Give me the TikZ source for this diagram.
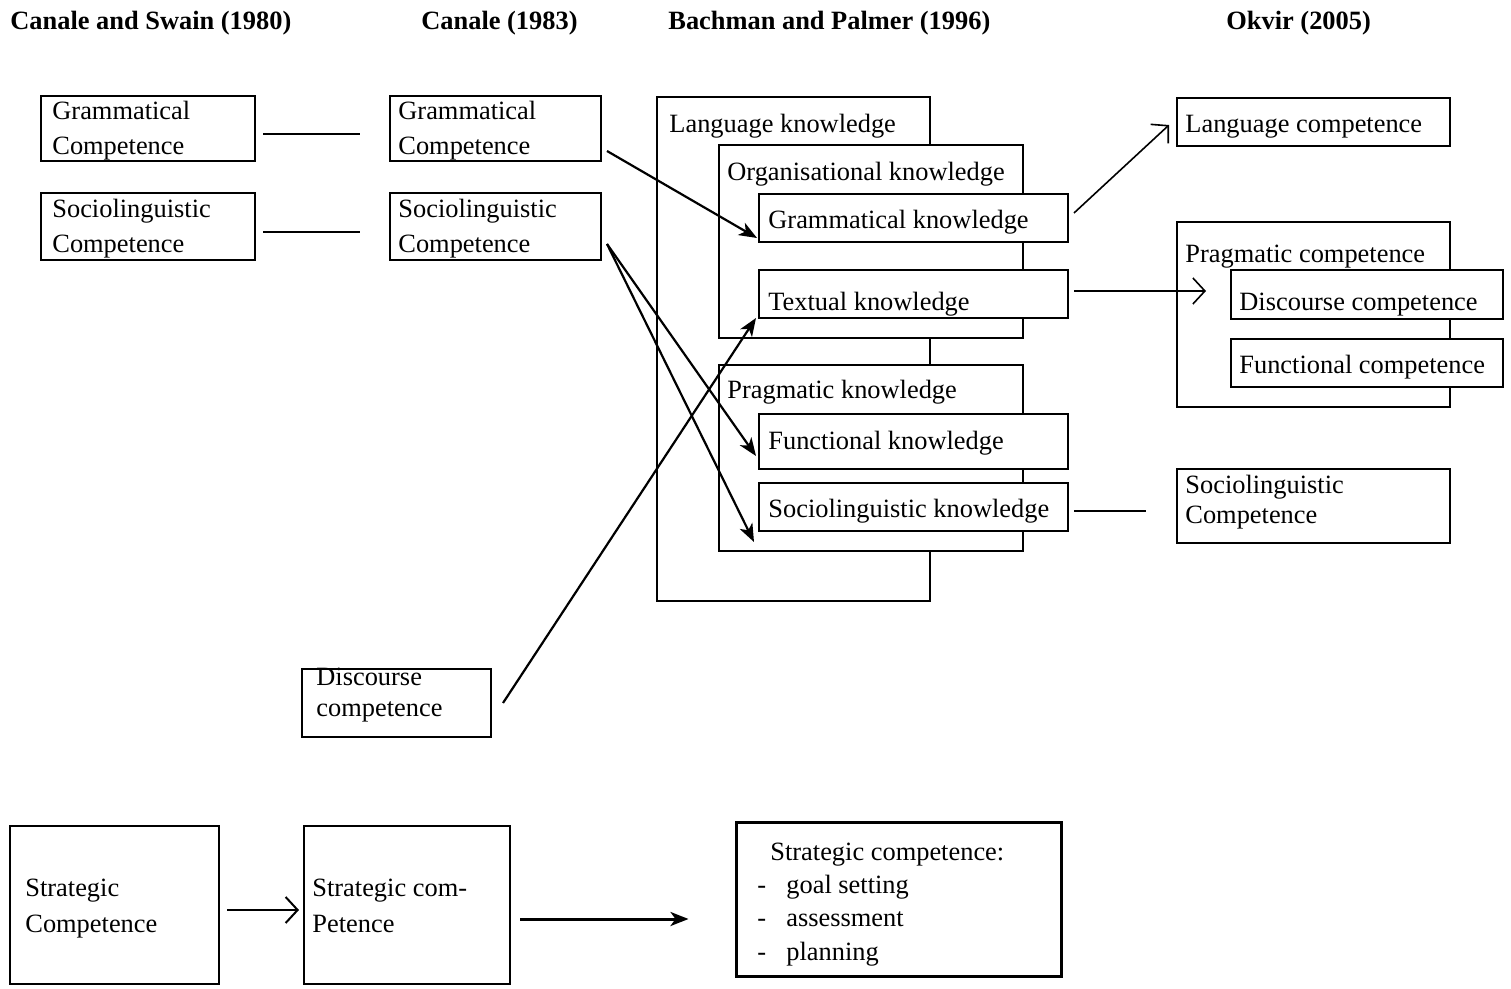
\documentclass[tikz,border=0pt]{standalone}
\usepackage{fontspec}
\setmainfont{Liberation Serif}
\usetikzlibrary{fit,calc,arrows.meta}
\begin{document}
\begin{tikzpicture}[x=0.5pt,y=-0.5pt,
  box/.style={draw=black,line width=1pt,fill=white,inner sep=0pt},
  thickbox/.style={draw=black,line width=1.5pt,fill=white,inner sep=0pt},
  txt/.style={anchor=base west,inner sep=0pt,font=\fontsize{13.2}{15}\selectfont},
  ttl/.style={anchor=base west,inner sep=0pt,font=\fontsize{13.2}{15}\selectfont\bfseries},
  farrow/.style={line width=1.1pt,-{Stealth[length=9pt,width=7pt,inset=2.5pt]}},
  oarrow/.style={line width=0.8pt,-{Straight Barb[length=6pt,width=13pt]}},
  plain/.style={line width=1pt}]
\useasboundingbox (0,0) rectangle (1511,989);

% titles
\node[ttl] (t1) at (10,30) {Canale and Swain (1980)};
\node[ttl] (t2) at (421,30) {Canale (1983)};
\node[ttl] (t3) at (668,30) {Bachman and Palmer (1996)};
\node[ttl] (t4) at (1226,30) {Okvir (2005)};

% column 1
\node[box,fit={(41,96)(255,161)}] (gc1) {};
\node[txt] (gc1a) at (52,120) {Grammatical};
\node[txt] (gc1b) at (52,155) {Competence};
\node[box,fit={(41,193)(255,260)}] (sc1) {};
\node[txt] (sc1a) at (52,218) {Sociolinguistic};
\node[txt] (sc1b) at (52,253) {Competence};

% column 2
\node[box,fit={(390,96)(601,161)}] (gc2) {};
\node[txt] (gc2a) at (398,120) {Grammatical};
\node[txt] (gc2b) at (398,155) {Competence};
\node[box,fit={(390,193)(601,260)}] (sc2) {};
\node[txt] (sc2a) at (398,218) {Sociolinguistic};
\node[txt] (sc2b) at (398,253) {Competence};

% Bachman and Palmer
\node[box,fit={(657,97)(930,601)}] (lk) {};
\node[txt] (lkt) at (669,133) {Language knowledge};
\node[box,fit={(719,145)(1023,338)}] (ok) {};
\node[txt] (okt) at (727,181) {Organisational knowledge};
\node[box,fit={(759,194)(1068,242)}] (gk) {};
\node[txt] (gkt) at (768,229) {Grammatical knowledge};
\node[box,fit={(759,270)(1068,318)}] (tk) {};
\node[txt] (tkt) at (768,311) {Textual knowledge};
\node[box,fit={(719,365)(1023,551)}] (pk) {};
\node[txt] (pkt) at (727,399) {Pragmatic knowledge};
\node[box,fit={(759,414)(1068,469)}] (fk) {};
\node[txt] (fkt) at (768,450) {Functional knowledge};
\node[box,fit={(759,483)(1068,531)}] (sk) {};
\node[txt] (skt) at (768,518) {Sociolinguistic knowledge};

% Okvir
\node[box,fit={(1177,98)(1450,146)}] (lc) {};
\node[txt] (lct) at (1185,133) {Language competence};
\node[box,fit={(1177,222)(1450,407)}] (pc) {};
\node[txt] (pct) at (1185,263) {Pragmatic competence};
\node[box,fit={(1231,270)(1503,319)}] (dc) {};
\node[txt] (dct) at (1239,311) {Discourse competence};
\node[box,fit={(1231,339)(1503,387)}] (fc) {};
\node[txt] (fct) at (1239,374) {Functional competence};
\node[box,fit={(1177,469)(1450,543)}] (scr) {};
\node[txt] (scra) at (1185,494) {Sociolinguistic};
\node[txt] (scrb) at (1185,524) {Competence};

% discourse competence (Canale 1983)
\node[box,fit={(302,669)(491,737)}] (disc) {};
\node[txt] (disca) at (316,685) {Discourse};
\node[txt] (discb) at (316,716) {competence};

% strategic
\node[box,fit={(10,826)(219,984)}] (st1) {};
\node[txt] (st1a) at (25,896) {Strategic};
\node[txt] (st1b) at (25,932) {Competence};
\node[box,fit={(304,826)(510,984)}] (st2) {};
\node[txt] (st2a) at (312,896) {Strategic com-};
\node[txt] (st2b) at (312,932) {Petence};
\node[thickbox,fit={(736,822)(1061,976)}] (st3) {};
\node[txt] (st3a) at (770,860) {Strategic competence:};
\node[txt] (d1) at (757,893) {-};
\node[txt] (st3b) at (786,893) {goal setting};
\node[txt] (d2) at (757,926) {-};
\node[txt] (st3c) at (786,926) {assessment};
\node[txt] (d3) at (757,960) {-};
\node[txt] (st3d) at (786,960) {planning};

% connectors
\draw[plain] ($(gc1.east)+(7,5.5)$) -- ($(gc2.west)+(-29,5.5)$);
\draw[plain] ($(sc1.east)+(7,5.5)$) -- ($(sc2.west)+(-29,5.5)$);
\draw[farrow] ($(gc2.east)+(5,22.5)$) -- ($(gk.south west)+(-1,-5)$);
\draw[farrow] ($(sc2.east)+(5,17.5)$) -- ($(fk.south west)+(-2,-14)$);
\draw[farrow] ($(sc2.east)+(5,17.5)$) -- ($(sk.south west)+(-4,10)$);
\draw[farrow] ($(disc.east)+(11,0)$) -- ($(tk.south west)+(-2,-1)$);
\draw[oarrow] ($(gk.east)+(5,-5)$) -- ($(lc.west)+(-7,3)$);
\draw[oarrow] ($(tk.east)+(5,-3)$) -- ($(dc.west)+(-24,-3.5)$);
\draw[plain] ($(sk.east)+(5,4)$) -- ($(scr.west)+(-30,5)$);
\draw[line width=1pt,-{Straight Barb[length=6pt,width=13pt]}] ($(st1.east)+(7,5)$) -- ($(st2.west)+(-4,5)$);
\draw[line width=1.5pt,-{Stealth[length=9pt,width=7pt,inset=2.5pt]}] ($(st2.east)+(9,14)$) -- ($(st3.west)+(-46,20)$);
\end{tikzpicture}
\end{document}
